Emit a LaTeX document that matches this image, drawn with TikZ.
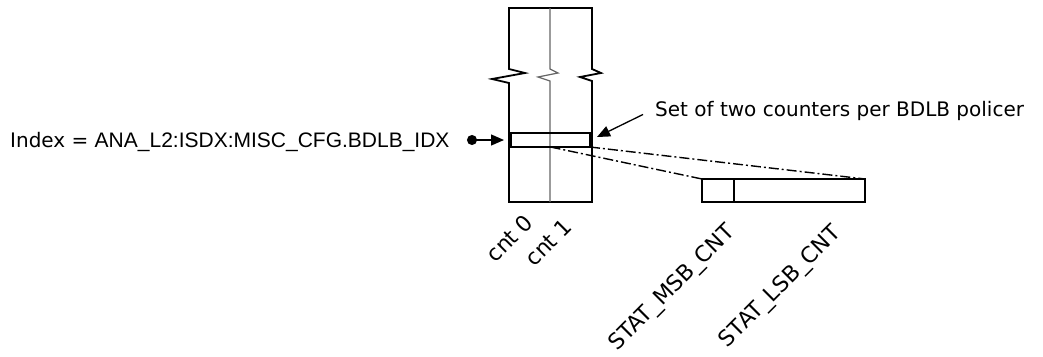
\documentclass[tikz,border=0pt]{standalone}
\usepackage{fontspec}
\setmainfont{DejaVu Sans}
\newfontfamily\arialfont{Liberation Sans}
\usetikzlibrary{arrows.meta, positioning}

\begin{document}
\begin{tikzpicture}[x=1pt, y=-1pt,
    outline/.style={draw=black, line width=1.8pt, line join=miter},
    divider/.style={draw=black!60, line width=1.2pt},
    slot/.style={draw=black, line width=2.2pt, minimum width=79pt,
                 minimum height=14pt, inner sep=0pt, outer sep=0pt},
    cntbox/.style={draw=black, line width=1.6pt, minimum height=23pt,
                   inner sep=0pt, outer sep=0pt},
    cntlabel/.style={font=\fontsize{22}{26}\selectfont, rotate=45,
                     anchor=base east, inner sep=0pt},
    txt/.style={font=\fontsize{20}{24}\selectfont, inner sep=0pt},
    link/.style={line width=1.4pt,
                 dash pattern=on 10pt off 3pt on 2pt off 3pt},
    arrow/.style={-{Triangle[length=13pt, width=11pt]}, line width=1.3pt}]
    \useasboundingbox (0,0) rectangle (1043,356);

    % counter table with break marks
    \draw[outline] (509,8) -- (509,69) -- (525,73) -- (492,79) -- (509,83)
        -- (509,202) -- (592,202) -- (592,81) -- (580,77) -- (601,73)
        -- (592,69) -- (592,8) -- cycle;
    \draw[divider] (550,8) -- (550,69) -- (558,73) -- (538,77) -- (550,81)
        -- (550,202);
    \node[slot] (row) at (550.5,140) {};

    % index register
    \node[txt, anchor=base west] (index) at (10,147)
        {Index = {\arialfont\fontsize{21}{24}\selectfont ANA\_L2:ISDX:MISC\_CFG.BDLB\_IDX}};
    \coordinate (dot) at (467,140);
    \draw[arrow, {Circle[length=10pt]}-{Triangle[length=13pt, width=11pt]},
          shorten >=7pt] (dot) -- (row.west);

    % callout
    \node[txt, anchor=base west] (note) at (655,116)
        {Set of two counters per BDLB policer};
    \coordinate (tip) at (597,137);
    \draw[arrow] ([xshift=-12pt, yshift=-4pt]note.west) -- (tip);

    % counter pair
    \node[cntbox, minimum width=32pt] (msb) at (718,190.5) {};
    \node[cntbox, minimum width=131pt, right=0pt of msb] (lsb) {};
    \draw[link] (row.south) -- (msb.north west);
    \draw[link] (row.south east) -- (lsb.north east);

    % labels
    \node[cntlabel] (c0) at (535,224) {cnt 0};
    \node[cntlabel] (c1) at (574,228) {cnt 1};
    \node[cntlabel] (msblabel) at (736,233) {STAT\_MSB\_CNT};
    \node[cntlabel] (lsblabel) at (842,234) {STAT\_LSB\_CNT};
\end{tikzpicture}
\end{document}
